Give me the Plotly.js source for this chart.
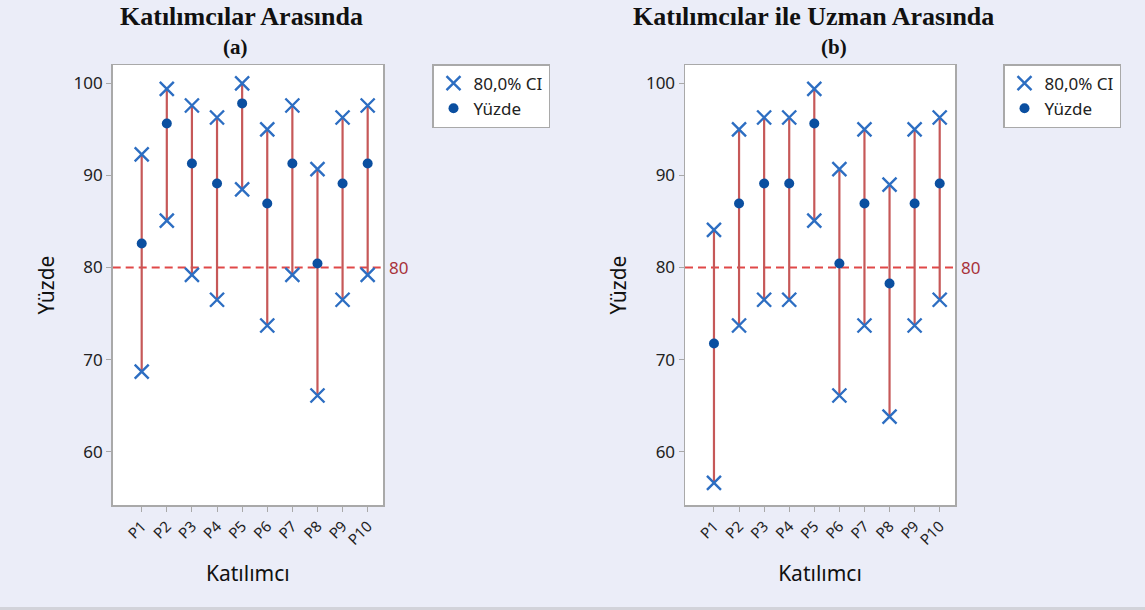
<!DOCTYPE html>
<html>
<head>
<meta charset="utf-8">
<script src="https://cdn.plot.ly/plotly-3.0.1.min.js"></script>
<style>
  html, body { margin: 0; padding: 0; background: #EBEDF8; }
  #chart { width: 1145px; height: 610px; }
</style>
</head>
<body>
<div id="chart"></div>
<script>
// Participants
const categories = ['P1', 'P2', 'P3', 'P4', 'P5', 'P6', 'P7', 'P8', 'P9', 'P10'];

// (a) agreement among participants: percentage and 80% confidence interval
const pctA = [82.61, 95.65, 91.30, 89.13, 97.83, 86.96, 91.30, 80.43, 89.13, 91.30];
const lowA = [68.7, 85.1, 79.2, 76.5, 88.5, 73.7, 79.2, 66.1, 76.5, 79.2];
const highA = [92.3, 99.4, 97.6, 96.3, 100.0, 95.0, 97.6, 90.7, 96.3, 97.6];

// (b) agreement between participants and the expert
const pctB = [71.74, 86.96, 89.13, 89.13, 95.65, 80.43, 86.96, 78.26, 86.96, 89.13];
const lowB = [56.6, 73.7, 76.5, 76.5, 85.1, 66.1, 73.7, 63.8, 73.7, 76.5];
const highB = [84.1, 95.0, 96.3, 96.3, 99.4, 90.7, 95.0, 89.0, 95.0, 96.3];

const target = 80;
const yTicks = [60, 70, 80, 90, 100];

const ciLabel = '80,0% CI';
const pctLabel = 'Yüzde';

const FONT = 'Noto Sans, Open Sans, sans-serif';
const SERIF = 'Liberation Serif, Times New Roman, serif';
const LINE_RED = '#C65858';
const X_BLUE = '#2D6EC2';
const DOT_BLUE = '#0B4FA0';

function panelTraces(pct, low, high, xa, ya, legendId) {
  const segX = [], segY = [];
  categories.forEach((c, i) => {
    segX.push(c, c, null);
    segY.push(low[i], high[i], null);
  });
  return [
    {
      type: 'scatter', mode: 'lines', x: segX, y: segY,
      xaxis: xa, yaxis: ya, showlegend: false, hoverinfo: 'skip',
      line: { color: LINE_RED, width: 2.2 }, connectgaps: false
    },
    {
      type: 'scatter', mode: 'markers', name: ciLabel,
      x: categories.concat(categories), y: low.concat(high),
      xaxis: xa, yaxis: ya, legend: legendId,
      marker: { symbol: 'x-thin-open', size: 14, color: X_BLUE, line: { width: 2.4, color: X_BLUE } }
    },
    {
      type: 'scatter', mode: 'markers', name: pctLabel,
      x: categories, y: pct,
      xaxis: xa, yaxis: ya, legend: legendId,
      marker: { symbol: 'circle', size: 10, color: DOT_BLUE }
    }
  ];
}

const data = [].concat(
  panelTraces(pctA, lowA, highA, 'x', 'y', 'legend'),
  panelTraces(pctB, lowB, highB, 'x2', 'y2', 'legend2')
);

function xAxis(domain, anchor) {
  return {
    domain: domain, anchor: anchor, type: 'category',
    categoryorder: 'array', categoryarray: categories,
    range: [-1.155, 9.61],
    showline: true, mirror: true, linecolor: '#A9A9A9', linewidth: 1.5,
    ticks: 'outside', ticklen: 5, tickcolor: '#A9A9A9', tickwidth: 1,
    tickangle: -45, tickfont: { family: FONT, size: 15, color: '#222' },
    showgrid: false, zeroline: false,
    title: { text: 'Katılımcı', font: { family: FONT, size: 21, color: '#111' }, standoff: 18 }
  };
}

function yAxis(domain, anchor) {
  return {
    domain: domain, anchor: anchor, range: [54.2, 102],
    tickvals: yTicks, ticktext: yTicks.map(String),
    showline: true, mirror: true, linecolor: '#A9A9A9', linewidth: 1.5,
    ticks: 'outside', ticklen: 5, tickcolor: '#A9A9A9', tickwidth: 1,
    tickfont: { family: FONT, size: 17, color: '#222' },
    showgrid: false, zeroline: false,
    title: { text: 'Yüzde', font: { family: FONT, size: 21, color: '#111' }, standoff: 13 }
  };
}

const yDomain = [0.1721, 0.8934];

function legendBox(x) {
  return {
    x: x, y: 0.895, xanchor: 'left', yanchor: 'top',
    bgcolor: '#FFFFFF', bordercolor: '#A9A9A9', borderwidth: 1.5,
    font: { family: FONT, size: 17, color: '#222' },
    itemsizing: 'trace'
  };
}

function targetLine(xref, yref) {
  return {
    type: 'line', xref: xref + ' domain', yref: yref, x0: 0, x1: 1, y0: target, y1: target,
    line: { color: '#E04848', width: 2, dash: '8px,5px' }, layer: 'below'
  };
}

function targetLabel(xref, yref) {
  return {
    xref: xref + ' domain', yref: yref, x: 1, y: target, xanchor: 'left', yanchor: 'middle',
    xshift: 4, text: String(target), showarrow: false,
    font: { family: FONT, size: 17, color: '#A8323A' }
  };
}

function panelTitle(x, main, sub) {
  return [
    { xref: 'paper', yref: 'paper', x: x[0], y: 1 - 17 / 610, xanchor: 'center', yanchor: 'middle',
      text: '<b>' + main + '</b>', showarrow: false,
      font: { family: SERIF, size: 26, color: '#111' } },
    { xref: 'paper', yref: 'paper', x: x[1], y: 1 - 47 / 610, xanchor: 'center', yanchor: 'middle',
      text: '<b>' + sub + '</b>', showarrow: false,
      font: { family: SERIF, size: 21, color: '#111' } }
  ];
}

const layout = {
  width: 1145, height: 610,
  margin: { l: 0, r: 0, t: 0, b: 0 },
  paper_bgcolor: '#EBEDF8', plot_bgcolor: '#FFFFFF',
  font: { family: FONT, color: '#222' },
  xaxis: xAxis([112.7 / 1145, 383 / 1145], 'y'),
  yaxis: yAxis(yDomain, 'x'),
  xaxis2: xAxis([685 / 1145, 955 / 1145], 'y2'),
  yaxis2: yAxis(yDomain, 'x2'),
  legend: legendBox(432 / 1145),
  legend2: legendBox(1003 / 1145),
  shapes: [
    targetLine('x', 'y'),
    targetLine('x2', 'y2'),
    { type: 'rect', xref: 'paper', yref: 'paper', x0: 0, x1: 1, y0: 0, y1: 3 / 610,
      fillcolor: '#D2D3DA', line: { width: 0 }, layer: 'below' }
  ],
  annotations: [].concat(
    panelTitle([241 / 1145, 235 / 1145], 'Katılımcılar Arasında', '(a)'),
    panelTitle([813 / 1145, 834 / 1145], 'Katılımcılar ile Uzman Arasında', '(b)'),
    [targetLabel('x', 'y'), targetLabel('x2', 'y2')]
  )
};

Plotly.newPlot('chart', data, layout, { displayModeBar: false, staticPlot: true });
</script>
</body>
</html>
